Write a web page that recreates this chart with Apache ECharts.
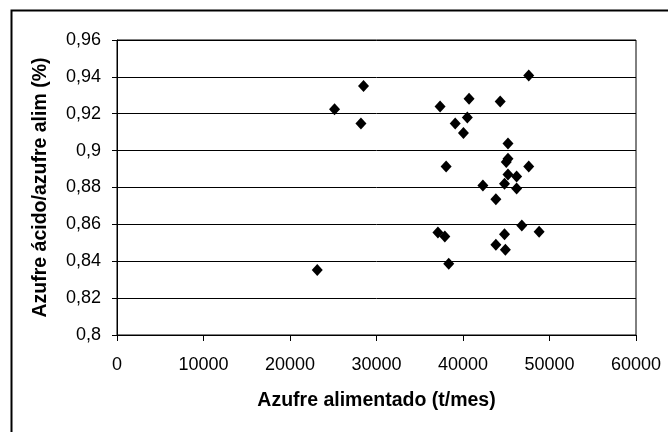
<!DOCTYPE html>
<html>
<head>
<meta charset="utf-8">
<script src="https://cdn.jsdelivr.net/npm/echarts@6/dist/echarts.min.js"></script>
<style>html,body{margin:0;padding:0;background:#fff}#c{width:668px;height:432px}</style>
</head>
<body>
<div id="c"></div>
<script>
var xTitle = 'Azufre alimentado (t/mes)';
var yTitle = 'Azufre ácido/azufre alim (%)';
var azufreAlimentado = [28500, 25150, 28200, 23150, 47600, 37350, 40700, 44300, 40500, 39100, 40050, 45200, 45200, 45000, 38050, 47600, 45200, 46200, 42300, 44800, 46200, 43800, 46800, 48800, 37100, 37900, 44800, 43800, 44900, 38350];
var relacionAzufre = [0.935, 0.9224, 0.9147, 0.8353, 0.9407, 0.924, 0.9282, 0.9267, 0.918, 0.9147, 0.9096, 0.9038, 0.8956, 0.8938, 0.8914, 0.8914, 0.8871, 0.886, 0.8811, 0.882, 0.8794, 0.8736, 0.8594, 0.856, 0.8556, 0.8534, 0.8547, 0.8489, 0.8462, 0.8387];

var points = azufreAlimentado.map(function (x, i) { return [x, relacionAzufre[i]]; });
var font = 'Liberation Sans, Arial, sans-serif';
var chart = echarts.init(document.getElementById('c'), null, {renderer: 'canvas'});
chart.setOption({
  animation: false,
  backgroundColor: '#fff',
  graphic: [{
    type: 'rect', left: 9, top: 8, silent: true,
    shape: {x: 0, y: 0, width: 720, height: 520},
    style: {fill: 'none', stroke: '#000', lineWidth: 2}
  }],
  grid: {left: 117, right: 32, top: 40, bottom: 97, show: true, borderColor: '#000', borderWidth: 1, backgroundColor: 'transparent'},
  xAxis: {
    type: 'value', min: 0, max: 60000, interval: 10000,
    name: xTitle, nameLocation: 'middle', nameGap: 56,
    nameTextStyle: {fontFamily: font, fontWeight: 'bold', fontSize: 19.5, color: '#000'},
    axisLine: {show: true, lineStyle: {color: '#000', width: 1}},
    axisTick: {show: true, inside: false, length: 6, lineStyle: {color: '#000'}},
    axisLabel: {fontFamily: font, fontSize: 18, color: '#000', margin: 21,
      formatter: function (v) { return String(v); }},
    splitLine: {show: false}
  },
  yAxis: {
    type: 'value', min: 0.8, max: 0.96, interval: 0.02,
    name: yTitle, nameLocation: 'middle', nameGap: 66,
    nameTextStyle: {fontFamily: font, fontWeight: 'bold', fontSize: 19.5, color: '#000'},
    axisLine: {show: true, lineStyle: {color: '#000', width: 1}},
    axisTick: {show: true, inside: false, length: 5, lineStyle: {color: '#000'}},
    axisLabel: {fontFamily: font, fontSize: 18, color: '#000', margin: 16,
      formatter: function (v) { return String(Math.round(v * 100) / 100).replace('.', ','); }},
    splitLine: {show: true, lineStyle: {color: '#000', width: 1}}
  },
  series: [{
    type: 'scatter', data: points, symbol: 'diamond', symbolSize: [11, 12],
    itemStyle: {color: '#000', opacity: 1}
  }]
});
</script>
</body>
</html>
